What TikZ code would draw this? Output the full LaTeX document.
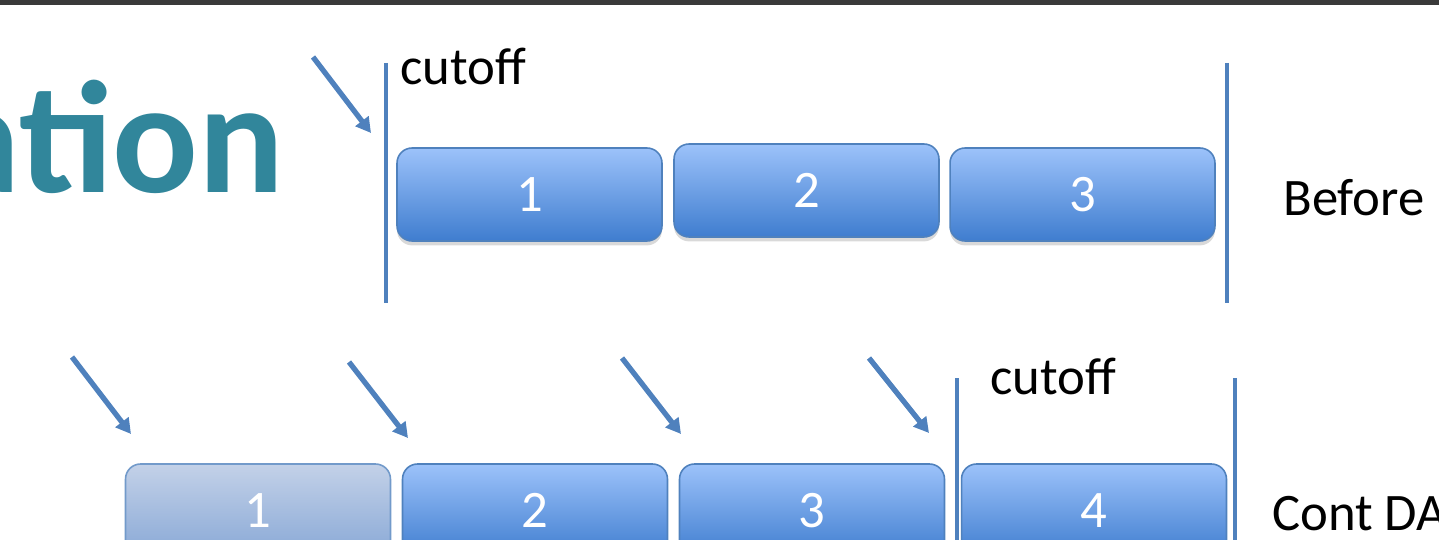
\documentclass[tikz,border=0pt]{standalone}
\usepackage{fontspec}
\setmainfont{Carlito}
\usetikzlibrary{arrows.meta,shadows}
\definecolor{accentblue}{HTML}{4F81BD}
\definecolor{titleteal}{HTML}{31869B}
\definecolor{barlight}{HTML}{9CC2FA}
\definecolor{bardark}{HTML}{3F7DCF}
\definecolor{fadelight}{HTML}{C3D1E8}
\definecolor{fadedark}{HTML}{88A8D6}
\definecolor{topbar}{HTML}{3A3A3A}

\tikzset{
  dagbox/.style={rounded corners=0.3cm, draw=accentblue, line width=0.9pt,
    top color=barlight, bottom color=bardark, minimum width=5.3cm,
    minimum height=1.86cm, inner sep=0pt, text=white,
    font=\fontsize{30}{30}\selectfont,
    drop shadow={opacity=0.3, shadow xshift=0pt, shadow yshift=-2.5pt}},
  fadedbox/.style={dagbox, top color=fadelight, bottom color=fadedark, draw=accentblue!80},
  cutline/.style={accentblue, line width=2.3pt},
  pointer/.style={accentblue, line width=3pt, -{Triangle[length=0.3cm,width=0.32cm]}},
  sidetext/.style={inner sep=0pt, font=\fontsize{30}{30}\selectfont}
}

\begin{document}
\begin{tikzpicture}[x=0.02cm, y=-0.02cm]
		%%%%% START %%%%%
		\useasboundingbox (0,0) rectangle (1439,540);
		\clip (0,0) rectangle (1439,540);
		
		\fill[topbar] (0,0) rectangle (1439,5);
		\node[anchor=base east, inner sep=0pt, text=titleteal, font=\fontsize{91}{91}\selectfont\bfseries] (title) at (285,193) {ation};
		
		% before
		\draw[cutline] (386,63) -- (386,303);
		\draw[cutline] (1227,63) -- (1227,303);
		\node[sidetext, anchor=base west] (cutA) at (400,85) {cutoff};
		\node[dagbox] (b1) at (529.5,194.5) {1};
		\node[dagbox] (b2) at (806.5,190.5) {2};
		\node[dagbox] (b3) at (1082.5,194.5) {3};
		\node[sidetext, anchor=base west] (before) at (1283,216) {Before};
		\coordinate (pA0) at (313,57);
		\coordinate (pA1) at (371,133);
		\draw[pointer] (pA0) -- (pA1);
		
		% cont dag
		\draw[cutline] (957,378) -- (957,545);
		\draw[cutline] (1235,378) -- (1235,545);
		\node[sidetext, anchor=base west] (cutB) at (990,394) {cutoff};
		\node[fadedbox] (c1) at (258,510.5) {1};
		\node[dagbox] (c2) at (535,510.5) {2};
		\node[dagbox] (c3) at (812,510.5) {3};
		\node[dagbox] (c4) at (1094,510.5) {4};
		\node[sidetext, anchor=base west] (cont) at (1272,530) {Cont DA};
		\foreach \x/\y/\u/\v [count=\i] in {72/357/131/434, 349/362/408/438, 622/358/681/434, 869/358/929/433}{
			\coordinate (q\i s) at (\x,\y);
			\coordinate (q\i e) at (\u,\v);
			\draw[pointer] (q\i s) -- (q\i e);
		}
		%%%%% END %%%%%
	\end{tikzpicture}
\end{document}
